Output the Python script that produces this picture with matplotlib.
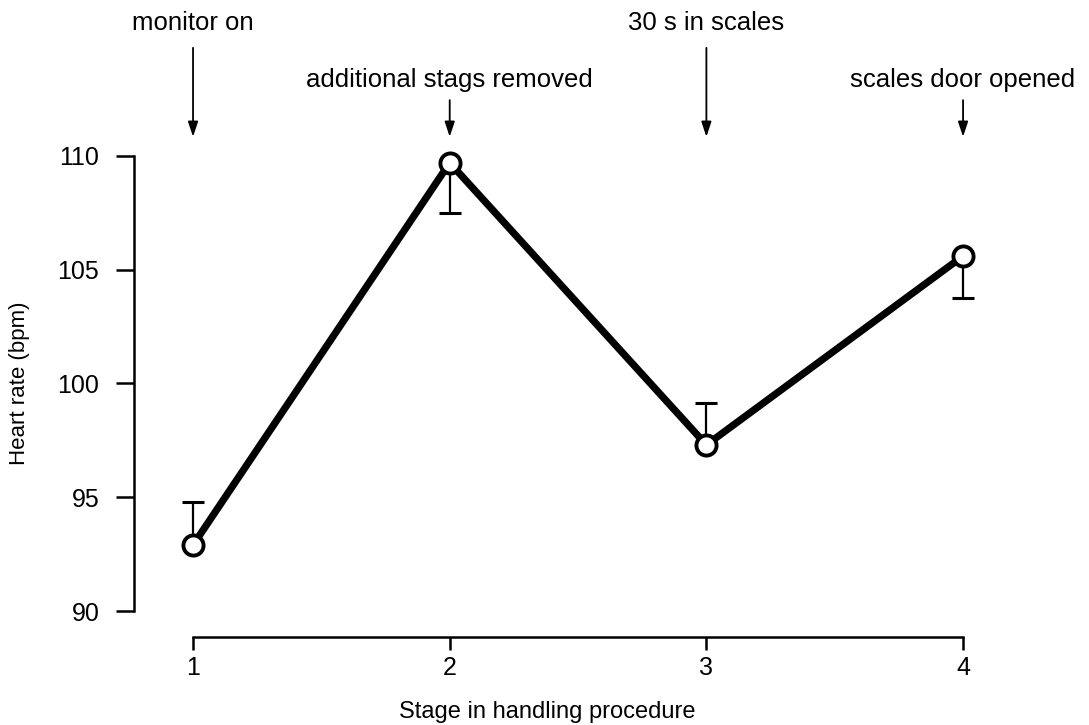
import matplotlib
matplotlib.use("Agg")
import matplotlib.pyplot as plt
import numpy as np

plt.rcParams['font.family'] = ['Liberation Sans', 'DejaVu Sans']

# data
stages = [1, 2, 3, 4]
heart_rate = [92.9, 109.7, 97.3, 105.6]
err_low = [0.0, 2.2, 0.0, 1.85]
err_high = [1.9, 0.0, 1.85, 0.0]
events = ["monitor on", "additional stags removed", "30 s in scales", "scales door opened"]
y_ticks = [90, 95, 100, 105, 110]

fig = plt.figure(figsize=(10.89, 7.25), dpi=100)
ax = fig.add_axes([134 / 1089, 88 / 725, 846 / 1089, 487 / 725])

# error bars (one sided) behind the line and markers
ax.errorbar(stages, heart_rate, yerr=[err_low, err_high], fmt='none',
            ecolor='black', elinewidth=1.6, capsize=8, capthick=2.2, zorder=1)
ax.plot(stages, heart_rate, color='black', linewidth=5.2, solid_capstyle='round',
        solid_joinstyle='round', zorder=2)
ax.plot(stages, heart_rate, linestyle='none', marker='o', markersize=14.5,
        markerfacecolor='white', markeredgecolor='black', markeredgewidth=2.8,
        zorder=3, clip_on=False)

ax.set_xlim(0.770, 4.066)
ax.set_ylim(88.86, 110.26)

for side in ['top', 'right']:
    ax.spines[side].set_visible(False)
ax.spines['left'].set_bounds(90, 110)
ax.spines['bottom'].set_bounds(1, 4)
ax.spines['left'].set_linewidth(1.8)
ax.spines['bottom'].set_linewidth(1.8)

ax.set_yticks(y_ticks)
ax.set_xticks(stages)
ax.tick_params(axis='y', length=13, width=1.8, pad=12, labelsize=18)
ax.tick_params(axis='x', length=9, width=1.8, pad=5, labelsize=18)

ax.set_ylabel("Heart rate (bpm)", fontsize=16, va='center')
ax.yaxis.set_label_coords(-0.1348, 0.5216)
ax.set_xlabel("Stage in handling procedure", fontsize=17)
ax.xaxis.set_label_coords(0.489, -0.154)
ax.xaxis.label.set_va('center')

# event arrows above the plot (alternating tall / short)
tip = 110.84
for i, (x, label) in enumerate(zip(stages, events)):
    if i % 2 == 0:
        start, text_y = 114.75, 115.55
    else:
        start, text_y = 112.45, 113.05
    ax.annotate('', xy=(x, tip), xytext=(x, start), annotation_clip=False,
                arrowprops=dict(arrowstyle='-|>,head_length=0.9,head_width=0.3',
                                color='black', lw=1.3, shrinkA=0, shrinkB=0))
    ax.text(x, text_y, label, ha='center', va='baseline', fontsize=18.5, clip_on=False)

fig.savefig('out.png', dpi=100)
